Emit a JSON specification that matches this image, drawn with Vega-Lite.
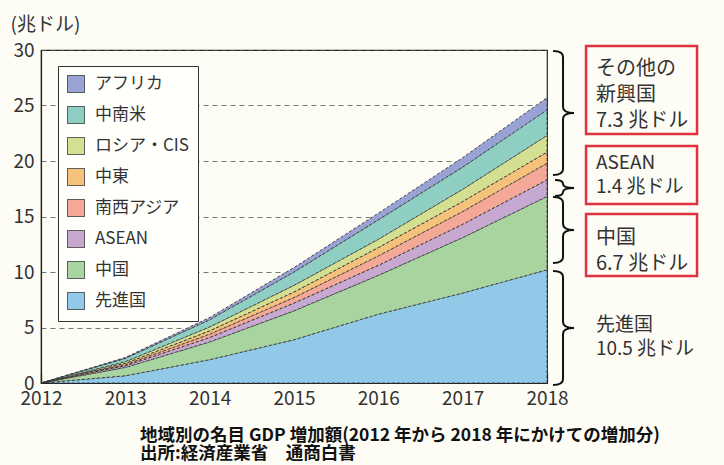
{
  "$schema": "https://vega.github.io/schema/vega-lite/v6.json",
  "width": 506,
  "height": 333,
  "autosize": "none",
  "padding": {"left": 41, "top": 50, "right": 177, "bottom": 82},
  "background": "#fdfdf6",
  "config": {"font": "Noto Sans CJK JP", "view": {"stroke": "#222", "strokeWidth": 1.2}},
  "layer": [
    {
      "data": {"values": [
        {"year": 2012, "region": "先進国", "rank": 1, "value": 0}, {"year": 2012, "region": "中国", "rank": 2, "value": 0}, {"year": 2012, "region": "ASEAN", "rank": 3, "value": 0}, {"year": 2012, "region": "南西アジア", "rank": 4, "value": 0}, {"year": 2012, "region": "中東", "rank": 5, "value": 0}, {"year": 2012, "region": "ロシア・CIS", "rank": 6, "value": 0}, {"year": 2012, "region": "中南米", "rank": 7, "value": 0}, {"year": 2012, "region": "アフリカ", "rank": 8, "value": 0},
        {"year": 2013, "region": "先進国", "rank": 1, "value": 0.65}, {"year": 2013, "region": "中国", "rank": 2, "value": 0.75}, {"year": 2013, "region": "ASEAN", "rank": 3, "value": 0.15}, {"year": 2013, "region": "南西アジア", "rank": 4, "value": 0.1}, {"year": 2013, "region": "中東", "rank": 5, "value": 0.12}, {"year": 2013, "region": "ロシア・CIS", "rank": 6, "value": 0.15}, {"year": 2013, "region": "中南米", "rank": 7, "value": 0.3}, {"year": 2013, "region": "アフリカ", "rank": 8, "value": 0.08},
        {"year": 2014, "region": "先進国", "rank": 1, "value": 2.1}, {"year": 2014, "region": "中国", "rank": 2, "value": 1.6}, {"year": 2014, "region": "ASEAN", "rank": 3, "value": 0.4}, {"year": 2014, "region": "南西アジア", "rank": 4, "value": 0.3}, {"year": 2014, "region": "中東", "rank": 5, "value": 0.3}, {"year": 2014, "region": "ロシア・CIS", "rank": 6, "value": 0.35}, {"year": 2014, "region": "中南米", "rank": 7, "value": 0.65}, {"year": 2014, "region": "アフリカ", "rank": 8, "value": 0.2},
        {"year": 2015, "region": "先進国", "rank": 1, "value": 3.9}, {"year": 2015, "region": "中国", "rank": 2, "value": 2.6}, {"year": 2015, "region": "ASEAN", "rank": 3, "value": 0.7}, {"year": 2015, "region": "南西アジア", "rank": 4, "value": 0.5}, {"year": 2015, "region": "中東", "rank": 5, "value": 0.5}, {"year": 2015, "region": "ロシア・CIS", "rank": 6, "value": 0.6}, {"year": 2015, "region": "中南米", "rank": 7, "value": 1.2}, {"year": 2015, "region": "アフリカ", "rank": 8, "value": 0.4},
        {"year": 2016, "region": "先進国", "rank": 1, "value": 6.2}, {"year": 2016, "region": "中国", "rank": 2, "value": 3.5}, {"year": 2016, "region": "ASEAN", "rank": 3, "value": 0.9}, {"year": 2016, "region": "南西アジア", "rank": 4, "value": 0.85}, {"year": 2016, "region": "中東", "rank": 5, "value": 0.75}, {"year": 2016, "region": "ロシア・CIS", "rank": 6, "value": 0.75}, {"year": 2016, "region": "中南米", "rank": 7, "value": 1.75}, {"year": 2016, "region": "アフリカ", "rank": 8, "value": 0.6},
        {"year": 2017, "region": "先進国", "rank": 1, "value": 8.1}, {"year": 2017, "region": "中国", "rank": 2, "value": 5.0}, {"year": 2017, "region": "ASEAN", "rank": 3, "value": 1.2}, {"year": 2017, "region": "南西アジア", "rank": 4, "value": 1.15}, {"year": 2017, "region": "中東", "rank": 5, "value": 0.9}, {"year": 2017, "region": "ロシア・CIS", "rank": 6, "value": 1.1}, {"year": 2017, "region": "中南米", "rank": 7, "value": 2.0}, {"year": 2017, "region": "アフリカ", "rank": 8, "value": 0.85},
        {"year": 2018, "region": "先進国", "rank": 1, "value": 10.2}, {"year": 2018, "region": "中国", "rank": 2, "value": 6.6}, {"year": 2018, "region": "ASEAN", "rank": 3, "value": 1.5}, {"year": 2018, "region": "南西アジア", "rank": 4, "value": 1.5}, {"year": 2018, "region": "中東", "rank": 5, "value": 1.0}, {"year": 2018, "region": "ロシア・CIS", "rank": 6, "value": 1.5}, {"year": 2018, "region": "中南米", "rank": 7, "value": 2.3}, {"year": 2018, "region": "アフリカ", "rank": 8, "value": 1.1}
      ]},
      "mark": {"type": "area", "stroke": "#333", "strokeWidth": 0.9, "strokeDash": [3, 2], "opacity": 1},
      "encoding": {
        "x": {
          "field": "year", "type": "quantitative",
          "scale": {"domain": [2012, 2018], "nice": false, "zero": false},
          "axis": {"title": null, "values": [2012, 2013, 2014, 2015, 2016, 2017, 2018], "format": "d", "labelFontSize": 19, "labelColor": "#333", "tickSize": -10, "tickColor": "#222", "tickWidth": 1.2, "domainColor": "#222", "domainWidth": 1.2, "labelPadding": 16, "grid": false, "labelFlush": false}
        },
        "y": {
          "field": "value", "type": "quantitative", "stack": "zero",
          "scale": {"domain": [0, 30], "nice": false},
          "axis": {"title": "(兆ドル)", "titleAngle": 0, "titleAlign": "left", "titleBaseline": "middle", "titleX": -31, "titleY": -26, "titleFontSize": 19, "titleFontWeight": "normal", "titleColor": "#333", "values": [0, 5, 10, 15, 20, 25, 30], "ticks": false, "labelPadding": 7, "labelFontSize": 19, "labelColor": "#333", "grid": true, "gridDash": [5, 4], "gridColor": "#555", "gridWidth": 0.8, "domainColor": "#222", "domainWidth": 1.2}
        },
        "order": {"field": "rank", "type": "quantitative", "sort": "ascending"},
        "color": {
          "field": "region", "type": "nominal",
          "scale": {"domain": ["先進国", "中国", "ASEAN", "南西アジア", "中東", "ロシア・CIS", "中南米", "アフリカ"], "range": ["#92c9e9", "#a8d4a0", "#c7a8d0", "#f4a898", "#f5c27c", "#d5df91", "#8fcfc3", "#98a2d4"]},
          "legend": {"title": null, "orient": "none", "legendX": 17, "legendY": 16, "values": ["アフリカ", "中南米", "ロシア・CIS", "中東", "南西アジア", "ASEAN", "中国", "先進国"], "fillColor": "#fffffc", "strokeColor": "#333", "padding": 9, "symbolType": "square", "symbolSize": 289, "symbolStrokeColor": "#333", "symbolStrokeWidth": 1, "symbolDash": [1, 0], "symbolOpacity": 1, "labelFontSize": 17, "labelColor": "#333", "labelOffset": 10, "rowPadding": 9, "labelLimit": 200}
        }
      }
    },
    {
      "data": {"values": [{}]},
      "mark": {"type": "point", "shape": "M -0.161 -1 Q 0 -1 0 -0.903 L 0 -0.097 Q 0 0 0.177 0 Q 0 0 0 0.097 L 0 0.903 Q 0 1 -0.161 1", "size": 15376, "filled": false, "color": "#111", "strokeWidth": 2, "opacity": 1},
      "encoding": {"x": {"datum": 2018.19, "type": "quantitative"}, "y": {"datum": 24.32, "type": "quantitative"}}
    },
    {
      "data": {"values": [{}]},
      "mark": {"type": "point", "shape": "M -1 -1 Q 0 -1 0 -0.5 Q 0 0 1.375 0 Q 0 0 0 0.5 Q 0 1 -1 1", "size": 256, "filled": false, "color": "#111", "strokeWidth": 2, "opacity": 1},
      "encoding": {"x": {"datum": 2018.19, "type": "quantitative"}, "y": {"datum": 17.57, "type": "quantitative"}}
    },
    {
      "data": {"values": [{}]},
      "mark": {"type": "point", "shape": "M -0.303 -1 Q 0 -1 0 -0.818 L 0 -0.182 Q 0 0 0.333 0 Q 0 0 0 0.182 L 0 0.818 Q 0 1 -0.303 1", "size": 4356, "filled": false, "color": "#111", "strokeWidth": 2, "opacity": 1},
      "encoding": {"x": {"datum": 2018.19, "type": "quantitative"}, "y": {"datum": 13.78, "type": "quantitative"}}
    },
    {
      "data": {"values": [{}]},
      "mark": {"type": "point", "shape": "M -0.175 -1 Q 0 -1 0 -0.895 L 0 -0.105 Q 0 0 0.193 0 Q 0 0 0 0.105 L 0 0.895 Q 0 1 -0.175 1", "size": 12996, "filled": false, "color": "#111", "strokeWidth": 2, "opacity": 1},
      "encoding": {"x": {"datum": 2018.19, "type": "quantitative"}, "y": {"datum": 4.95, "type": "quantitative"}}
    },
    {
      "data": {"values": [{}]},
      "mark": {"type": "rect", "fill": "#ffffff", "fillOpacity": 0, "stroke": "#e0323e", "strokeWidth": 2.5},
      "encoding": {"x": {"datum": 2018.463, "type": "quantitative"}, "x2": {"datum": 2019.779}, "y": {"datum": 30.36, "type": "quantitative"}, "y2": {"datum": 22.43}}
    },
    {
      "data": {"values": [{}]},
      "mark": {"type": "rect", "fill": "#ffffff", "fillOpacity": 0, "stroke": "#e0323e", "strokeWidth": 2.5},
      "encoding": {"x": {"datum": 2018.463, "type": "quantitative"}, "x2": {"datum": 2019.779}, "y": {"datum": 21.35, "type": "quantitative"}, "y2": {"datum": 16.13}}
    },
    {
      "data": {"values": [{}]},
      "mark": {"type": "rect", "fill": "#ffffff", "fillOpacity": 0, "stroke": "#e0323e", "strokeWidth": 2.5},
      "encoding": {"x": {"datum": 2018.463, "type": "quantitative"}, "x2": {"datum": 2019.779}, "y": {"datum": 15.23, "type": "quantitative"}, "y2": {"datum": 9.64}}
    },
    {
      "data": {"values": [{}]},
      "mark": {"type": "text", "align": "left", "baseline": "top", "fontSize": 20, "lineHeight": 26, "color": "#333"},
      "encoding": {"x": {"datum": 2018.58, "type": "quantitative"}, "y": {"datum": 29.23, "type": "quantitative"}, "text": {"value": ["その他の", "新興国", "7.3 兆ドル"]}}
    },
    {
      "data": {"values": [{}]},
      "mark": {"type": "text", "align": "left", "baseline": "top", "fontSize": 19, "lineHeight": 24, "color": "#333"},
      "encoding": {"x": {"datum": 2018.58, "type": "quantitative"}, "y": {"datum": 20.6, "type": "quantitative"}, "text": {"value": ["ASEAN", "1.4 兆ドル"]}}
    },
    {
      "data": {"values": [{}]},
      "mark": {"type": "text", "align": "left", "baseline": "top", "fontSize": 20, "lineHeight": 26, "color": "#333"},
      "encoding": {"x": {"datum": 2018.58, "type": "quantitative"}, "y": {"datum": 13.92, "type": "quantitative"}, "text": {"value": ["中国", "6.7 兆ドル"]}}
    },
    {
      "data": {"values": [{}]},
      "mark": {"type": "text", "align": "left", "baseline": "top", "fontSize": 19, "lineHeight": 24, "color": "#333"},
      "encoding": {"x": {"datum": 2018.58, "type": "quantitative"}, "y": {"datum": 6.05, "type": "quantitative"}, "text": {"value": ["先進国", "10.5 兆ドル"]}}
    },
    {
      "data": {"values": [{}]},
      "mark": {"type": "text", "align": "left", "baseline": "top", "fontSize": 17.5, "lineHeight": 18, "fontWeight": "bold", "color": "#111"},
      "encoding": {"x": {"datum": 2013.174, "type": "quantitative"}, "y": {"datum": -4.0, "type": "quantitative"}, "text": {"value": ["地域別の名目 GDP 増加額(2012 年から 2018 年にかけての増加分)", "出所:経済産業省　通商白書"]}}
    }
  ]
}
